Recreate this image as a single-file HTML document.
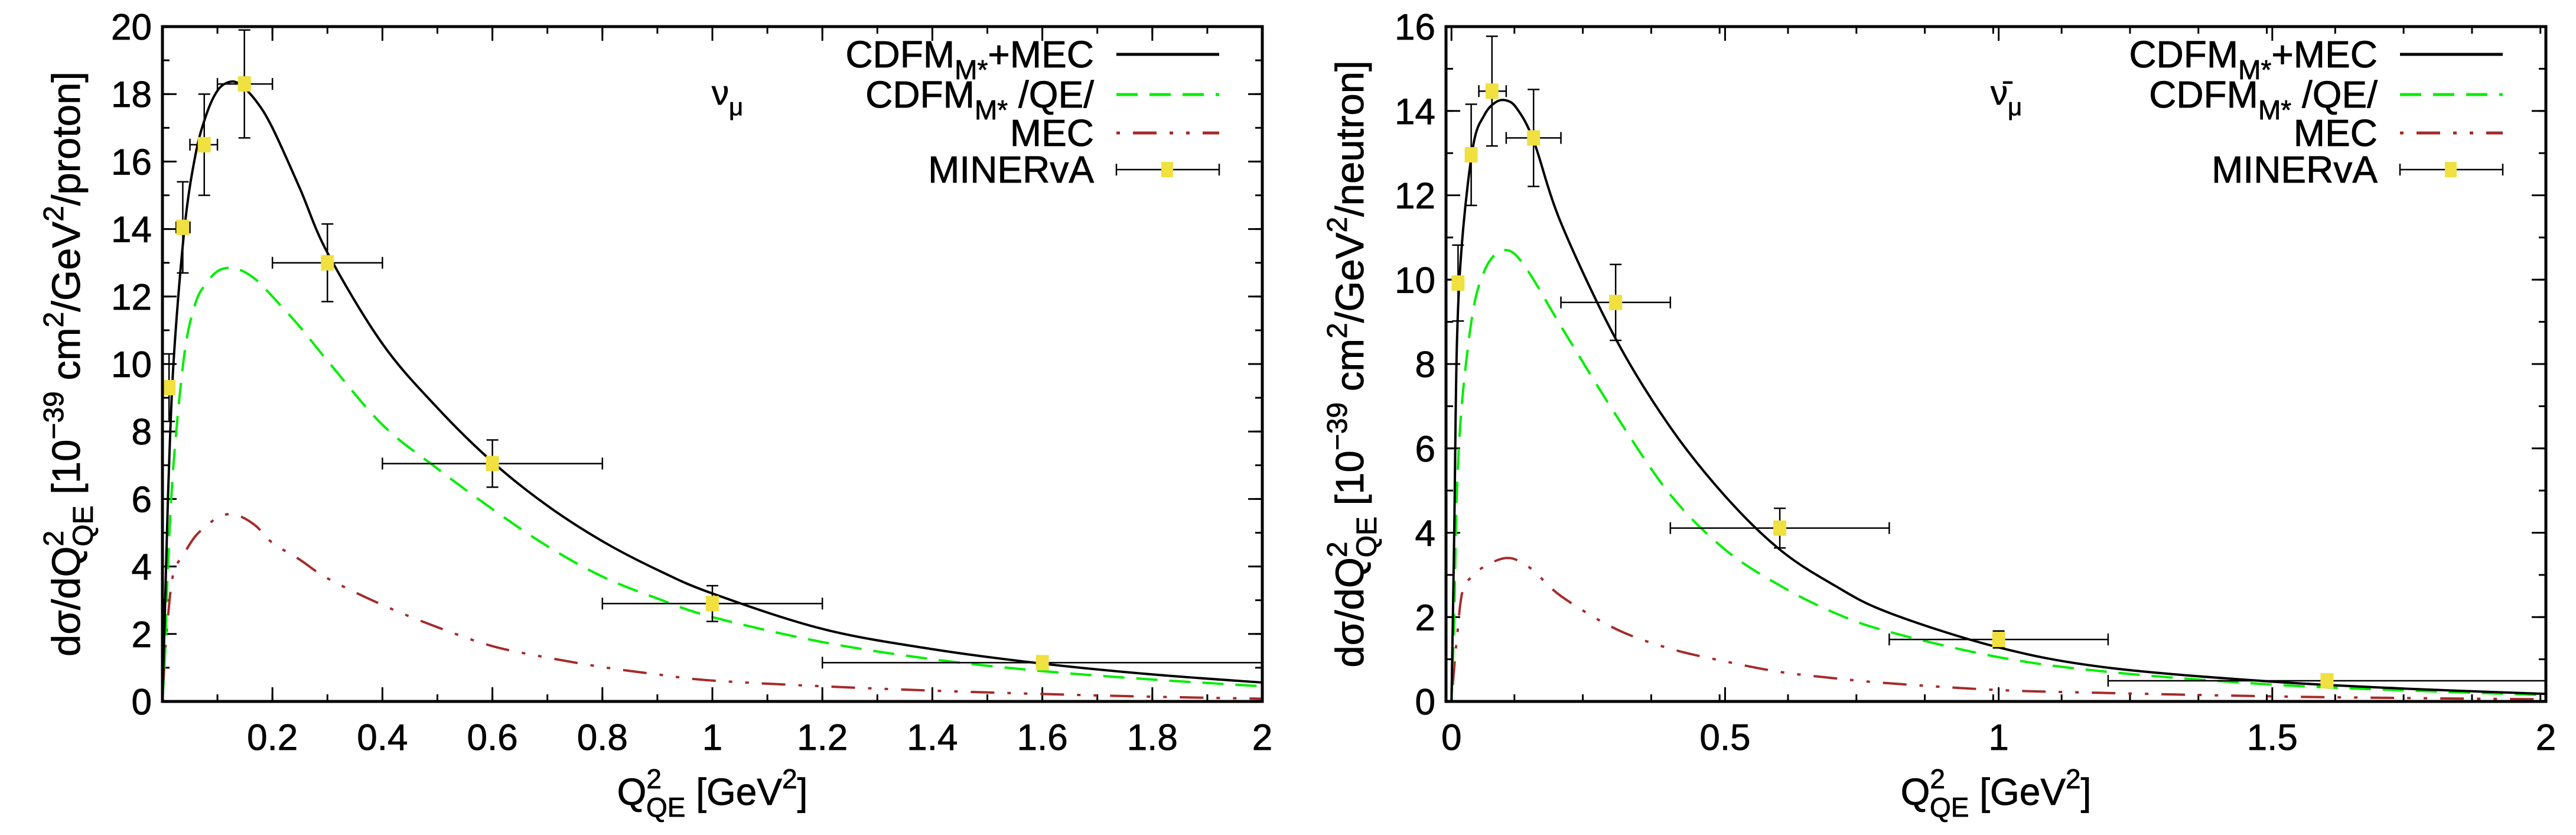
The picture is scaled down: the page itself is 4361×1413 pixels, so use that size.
<!DOCTYPE html>
<html><head><meta charset="utf-8"><style>
html,body{margin:0;padding:0;background:#fff;}
svg text{font-family:"Liberation Sans",sans-serif;fill:#000;stroke:#000;stroke-width:0.8px;}
</style></head>
<body>
<svg id="fig" xmlns="http://www.w3.org/2000/svg" width="4361" height="1408" viewBox="0 0 4361 1408"></svg>
<script>
// ---------- Left panel data (nu_mu) ----------
const L_curveX = [0,0.005,0.01,0.02,0.04,0.06,0.08,0.1,0.12,0.14,0.17,0.2,0.25,0.3,0.4,0.5,0.6,0.7,0.8,0.9,1.0,1.2,1.4,1.6,1.8,2.0];
const L_total  = [0,3,6,10,14,16.2,17.4,18.1,18.35,18.3,17.8,17.0,15.2,13.3,10.6,8.7,7.1,5.8,4.75,3.9,3.2,2.15,1.55,1.12,0.8,0.56];
const L_qe     = [0,1.5,4,7,10.3,11.8,12.4,12.75,12.85,12.8,12.5,12.0,11.1,10.1,8.2,6.9,5.7,4.6,3.7,3.05,2.5,1.76,1.25,0.9,0.65,0.45];
const L_mec    = [0,1.5,2.5,3.8,4.4,4.9,5.2,5.45,5.55,5.5,5.2,4.7,4.2,3.65,2.86,2.2,1.64,1.3,1.02,0.8,0.62,0.45,0.32,0.22,0.14,0.08];
const L_dataX  = [0.012,0.037,0.076,0.149,0.3,0.6,1.0,1.6];
const L_dataY  = [9.3,14.05,16.5,18.3,13.0,7.05,2.9,1.15];
const L_dataEY = [1.0,1.35,1.5,1.6,1.15,0.7,0.53,0.2];
const L_dataXlo= [0.012,0.025,0.05,0.1,0.2,0.4,0.8,1.2];
const L_dataXhi= [0.012,0.05,0.1,0.2,0.4,0.8,1.2,2.0];
const L_xTicks = ["0.2","0.4","0.6","0.8","1","1.2","1.4","1.6","1.8","2"];
const L_yTicks = ["0","2","4","6","8","10","12","14","16","18","20"];

// ---------- Right panel data (anti nu_mu) ----------
const R_curveX = [0,0.005,0.01,0.02,0.04,0.06,0.08,0.1,0.12,0.15,0.2,0.3,0.4,0.5,0.6,0.7,0.8,1.0,1.2,1.5,1.75,2.0];
const R_total  = [0,4,8.5,11,13.2,13.9,14.2,14.25,14.05,13.3,11.35,8.6,6.5,4.87,3.6,2.75,2.1,1.28,0.8,0.47,0.3,0.18];
const R_qe     = [0,2,5,7.2,9.3,10.2,10.6,10.7,10.55,10.0,8.9,6.8,4.9,3.6,2.75,2.1,1.65,1.05,0.7,0.4,0.26,0.15];
const R_mec    = [0,0.8,1.5,2.6,3.0,3.2,3.33,3.4,3.35,3.1,2.5,1.72,1.25,0.95,0.7,0.55,0.43,0.27,0.2,0.12,0.08,0.05];
const R_dataX  = [0.012,0.036,0.074,0.15,0.3,0.6,1.0,1.6];
const R_dataY  = [9.92,12.96,14.47,13.36,9.46,4.11,1.47,0.49];
const R_dataEY = [0.9,1.2,1.3,1.15,0.9,0.47,0.2,0.05];
const R_dataXlo= [0.012,0.036,0.05,0.1,0.2,0.4,0.8,1.2];
const R_dataXhi= [0.012,0.036,0.1,0.2,0.4,0.8,1.2,2.0];
const R_xTicks = ["0","0.5","1","1.5","2"];
const R_yTicks = ["0","2","4","6","8","10","12","14","16"];

const NS="http://www.w3.org/2000/svg";
const svg=document.getElementById('fig');
function mk(tag,attrs,parent){const e=document.createElementNS(NS,tag);for(const k in attrs)e.setAttribute(k,attrs[k]);(parent||svg).appendChild(e);return e;}
function smooth(pts){
  let d='M'+pts[0][0].toFixed(1)+','+pts[0][1].toFixed(1);
  for(let i=0;i<pts.length-1;i++){
    const p0=pts[Math.max(i-1,0)],p1=pts[i],p2=pts[i+1],p3=pts[Math.min(i+2,pts.length-1)];
    const c1=[p1[0]+(p2[0]-p0[0])/6,p1[1]+(p2[1]-p0[1])/6];
    const c2=[p2[0]-(p3[0]-p1[0])/6,p2[1]-(p3[1]-p1[1])/6];
    d+=' C'+c1[0].toFixed(1)+','+c1[1].toFixed(1)+' '+c2[0].toFixed(1)+','+c2[1].toFixed(1)+' '+p2[0].toFixed(1)+','+p2[1].toFixed(1);
  }
  return d;
}

function panel(o){
  const g=mk('g',{});
  
  
  const X=v=>o.x0+(v-o.xmin)/(o.xmax-o.xmin)*(o.x1-o.x0);
  const Y=v=>o.y1-(v-o.ymin)/(o.ymax-o.ymin)*(o.y1-o.y0);
  for(let v=o.xmin;v<=o.xmax+1e-9;v+=o.xminor){const px=X(v);if(px<o.x0+2)continue;
    mk('line',{x1:px,x2:px,y1:o.y1,y2:o.y1-12,stroke:'#000','stroke-width':3},g);
    mk('line',{x1:px,x2:px,y1:o.y0,y2:o.y0+12,stroke:'#000','stroke-width':3},g);}
  for(let v=o.ymin;v<=o.ymax+1e-9;v+=o.yminor){const py=Y(v);
    mk('line',{x1:o.x0,x2:o.x0+12,y1:py,y2:py,stroke:'#000','stroke-width':3},g);
    mk('line',{x1:o.x1,x2:o.x1-12,y1:py,y2:py,stroke:'#000','stroke-width':3},g);}
  o.xTicks.forEach(t=>{const px=X(parseFloat(t));
    mk('line',{x1:px,x2:px,y1:o.y1,y2:o.y1-24,stroke:'#000','stroke-width':3},g);
    mk('line',{x1:px,x2:px,y1:o.y0,y2:o.y0+24,stroke:'#000','stroke-width':3},g);
    const tx=mk('text',{x:px,y:o.y1+82,'font-size':62,'text-anchor':'middle'},g);tx.textContent=t;
    
    });
  o.yTicks.forEach(t=>{const py=Y(parseFloat(t));
    mk('line',{x1:o.x0,x2:o.x0+24,y1:py,y2:py,stroke:'#000','stroke-width':3},g);
    mk('line',{x1:o.x1,x2:o.x1-24,y1:py,y2:py,stroke:'#000','stroke-width':3},g);
    const tx=mk('text',{x:o.x0-18,y:py+22,'font-size':62,'text-anchor':'end'},g);tx.textContent=t;
    
    });
  const cid='clip'+o.name;
  const cp=mk('clipPath',{id:cid},g);mk('rect',{x:o.x0,y:o.y0,width:o.x1-o.x0,height:o.y1-o.y0},cp);
  const cg=mk('g',{'clip-path':'url(#'+cid+')'},g);
  function curve(ys,color,dash,nm){
    const pts=o.cx.map((v,i)=>[X(v),Y(ys[i])]);
    const p=mk('path',{d:smooth(pts),fill:'none',stroke:color,'stroke-width':4,'stroke-dasharray':dash,'stroke-linejoin':'round'},cg);
    
    
  }
  curve(o.mec,'#a52a2a','6,22,40,22,6,22','mec-curve');
  curve(o.qe,'#00ee00','36,20','qe-curve');
  curve(o.total,'#000','none','total-curve');
  o.dx.forEach((v,i)=>{
    const pg=mk('g',{},cg);
    
    
    const px=X(v),py=Y(o.dy[i]);
    const xl=X(o.dxlo[i]),xh=X(o.dxhi[i]),yt=Y(o.dy[i]+o.dey[i]),yb=Y(o.dy[i]-o.dey[i]);
    mk('line',{x1:xl,x2:xh,y1:py,y2:py,stroke:'#000','stroke-width':2.5},pg);
    if(xh-xl>4){mk('line',{x1:xl,x2:xl,y1:py-10,y2:py+10,stroke:'#000','stroke-width':2.5},pg);
      mk('line',{x1:xh,x2:xh,y1:py-10,y2:py+10,stroke:'#000','stroke-width':2.5},pg);}
    mk('line',{x1:px,x2:px,y1:yt,y2:yb,stroke:'#000','stroke-width':2.5},pg);
    mk('line',{x1:px-10,x2:px+10,y1:yt,y2:yt,stroke:'#000','stroke-width':2.5},pg);
    mk('line',{x1:px-10,x2:px+10,y1:yb,y2:yb,stroke:'#000','stroke-width':2.5},pg);
    mk('rect',{x:px-11,y:py-13,width:22,height:26,fill:'#f0e040'},pg);
  });
  mk('rect',{x:o.x0,y:o.y0,width:o.x1-o.x0,height:o.y1-o.y0,fill:'none',stroke:'#000','stroke-width':5},g);
  const lg=mk('g',{},g);
  
  
  const rows=[[92,'CDFM','M*','+MEC','#000','none'],[160,'CDFM','M*',' /QE/','#00ee00','36,20'],[225,'MEC','','','#a52a2a','6,22,40,22,6,22'],[287,'MINERvA','','','','']];
  rows.forEach(r=>{
    const t=mk('text',{x:o.lx,y:r[0]+22,'font-size':64,'text-anchor':'end'},lg);
    
    
    const a=mk('tspan',{},t);a.textContent=r[1];
    if(r[2]){const s=mk('tspan',{dy:20,'font-size':46},t);s.textContent=r[2];
      const c=mk('tspan',{dy:-20},t);c.textContent=r[3];}
    if(r[4]) mk('line',{x1:o.lx+38,x2:o.lx+212,y1:r[0],y2:r[0],stroke:r[4],'stroke-width':5,'stroke-dasharray':r[5]},lg);
    else{mk('line',{x1:o.lx+38,x2:o.lx+212,y1:r[0],y2:r[0],stroke:'#000','stroke-width':2.5},lg);
      mk('line',{x1:o.lx+38,x2:o.lx+38,y1:r[0]-10,y2:r[0]+10,stroke:'#000','stroke-width':2.5},lg);
      mk('line',{x1:o.lx+212,x2:o.lx+212,y1:r[0]-10,y2:r[0]+10,stroke:'#000','stroke-width':2.5},lg);
      mk('rect',{x:o.lx+114,y:r[0]-13,width:20,height:26,fill:'#f0e040'},lg);}
  });
  const tt=mk('text',{x:o.tx,y:177,'font-size':58},g);
  
  
  const t1=mk('tspan',{},tt);t1.textContent=o.bar?'ν̄':'ν';
  const t2=mk('tspan',{dy:18,'font-size':42},tt);t2.textContent='μ';
  const xt=mk('text',{x:(o.x0+o.x1)/2,y:1362,'font-size':64,'text-anchor':'middle'},g);
  
  
  xt.innerHTML='Q<tspan dy="-28" font-size="46">2</tspan><tspan dy="48" dx="-26" font-size="46">QE</tspan><tspan dy="-20"> [GeV</tspan><tspan dy="-28" font-size="46">2</tspan><tspan dy="28">]</tspan>';
  const yt=mk('text',{x:0,y:0,'font-size':67,'text-anchor':'middle',transform:'translate('+(o.x0-140)+','+(o.y0+o.y1)/2+') rotate(-90)'},g);
  
  
  yt.innerHTML='dσ/dQ<tspan dy="-28" font-size="48">2</tspan><tspan dy="50" dx="-27" font-size="48">QE</tspan><tspan dy="-22"> [10</tspan><tspan dy="-28" font-size="48">−39</tspan><tspan dy="28"> cm</tspan><tspan dy="-28" font-size="48">2</tspan><tspan dy="28">/GeV</tspan><tspan dy="-28" font-size="48">2</tspan><tspan dy="28">/'+o.unit+']</tspan>';
}

panel({name:'left-panel',x0:275,x1:2137,y0:45,y1:1187,xmin:0,xmax:2,ymin:0,ymax:20,xminor:0.1,yminor:1,
  xTicks:L_xTicks,yTicks:L_yTicks,cx:L_curveX,total:L_total,qe:L_qe,mec:L_mec,
  dx:L_dataX,dy:L_dataY,dey:L_dataEY,dxlo:L_dataXlo,dxhi:L_dataXhi,lx:1852,tx:1205,bar:false,unit:'proton'});
panel({name:'right-panel',x0:2448,x1:4310,y0:45,y1:1187,xmin:-0.01,xmax:2,ymin:0,ymax:16,xminor:0.125,yminor:1,
  xTicks:R_xTicks,yTicks:R_yTicks,cx:R_curveX,total:R_total,qe:R_qe,mec:R_mec,
  dx:R_dataX,dy:R_dataY,dey:R_dataEY,dxlo:R_dataXlo,dxhi:R_dataXhi,lx:4025,tx:3370,bar:true,unit:'neutron'});
</script>
</body></html>
